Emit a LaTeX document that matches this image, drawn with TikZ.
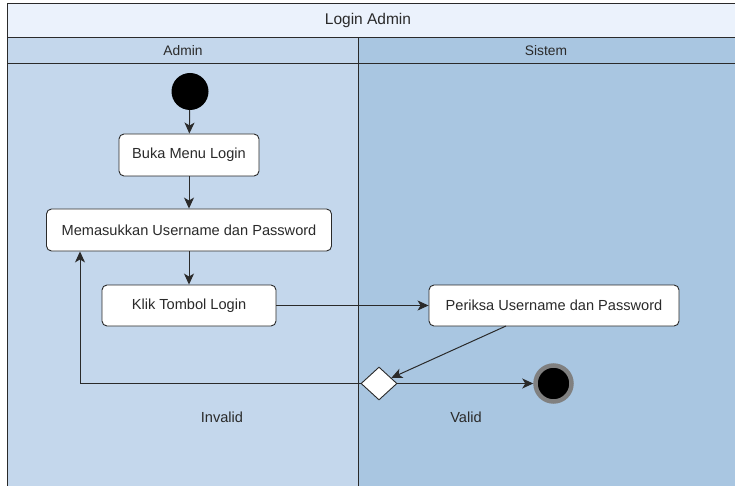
\documentclass[tikz,border=0pt]{standalone}
\usepackage{fontspec}
\setmainfont{Liberation Sans}
\usetikzlibrary{arrows.meta,shapes.geometric}
\definecolor{titlebg}{HTML}{EBF2FC}
\definecolor{adminbg}{HTML}{C4D7EC}
\definecolor{sistembg}{HTML}{A9C6E1}
\definecolor{linecol}{HTML}{2A2A2A}
\definecolor{textcol}{HTML}{2A2A2A}
\tikzset{
  action/.style={draw=linecol, fill=white, rounded corners=5, line width=0.9, font=\fontsize{14.6}{17}\selectfont, text=textcol},
  flow/.style={draw=linecol, line width=1, -{Stealth[length=11, width=10, inset=3]}},
  lane/.style={draw=linecol, line width=1}
}

\begin{document}
\begin{tikzpicture}[x=1pt, y=-1pt]
			%%%%% START %%%%%
			\useasboundingbox (0, 0) rectangle (735, 486);
			
			\draw[lane, fill=titlebg] (7, 4) rectangle (745, 38);
			\draw[lane, fill=adminbg] (7, 38) rectangle (358, 64);
			\draw[lane, fill=sistembg] (358, 38) rectangle (745, 64);
			\draw[lane, fill=adminbg] (7, 64) rectangle (358, 495);
			\draw[lane, fill=sistembg] (358, 64) rectangle (745, 495);
			
			\node[text=textcol, font=\fontsize{15.5}{18}\selectfont] (title) at (368, 20) {Login Admin};
			\node[text=textcol, font=\fontsize{13.8}{16}\selectfont] (admin) at (183, 51) {Admin};
			\node[text=textcol, font=\fontsize{13.8}{16}\selectfont] (sistem) at (546, 51) {Sistem};
			
			\node[circle, fill=black, inner sep=0, minimum size=37] (start) at (190, 91.5) {};
			\node[action, minimum width=140, minimum height=42] (buka) at (189, 155) {Buka Menu Login};
			\node[action, minimum width=285, minimum height=42] (masuk) at (189, 230) {Memasukkan Username dan Password};
			\node[action, minimum width=174, minimum height=41] (klik) at (189, 305.5) {Klik Tombol Login};
			\node[action, minimum width=250, minimum height=41] (periksa) at (554, 305.5) {Periksa Username dan Password};
			\node[diamond, draw=linecol, fill=white, line width=0.9, inner sep=0, minimum width=36, minimum height=33] (cek) at (379, 383.5) {};
			\node[circle, fill=black, draw=black!50, line width=4.5, inner sep=0, minimum size=36] (selesai) at (553.5, 383.5) {};
			
			\node[text=textcol, font=\fontsize{14.6}{17}\selectfont] (invalid) at (222, 417) {Invalid};
			\node[text=textcol, font=\fontsize{14.6}{17}\selectfont] (valid) at (466, 417) {Valid};
			
			\coordinate (keluar) at (506, 326);
			\coordinate (balik) at (80, 383.5);
			
			\draw[flow] (start) -- (buka);
			\draw[flow] (buka) -- (masuk);
			\draw[flow] (masuk) -- (klik);
			\draw[flow] (klik) -- (periksa);
			\draw[flow] (keluar) -- (cek);
			\draw[flow] (cek.west) -- (balik) -- (balik |- masuk.south);
			\draw[flow] (cek) -- (selesai);
			%%%%% END %%%%%
		\end{tikzpicture}
\end{document}
